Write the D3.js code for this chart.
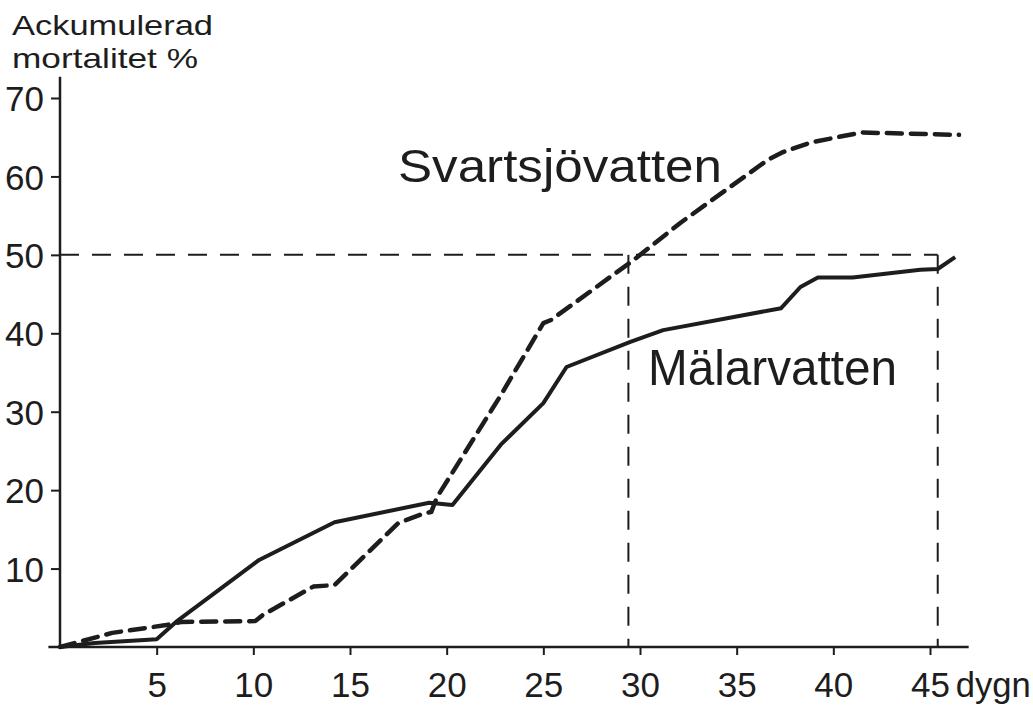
<!DOCTYPE html>
<html>
<head>
<meta charset="utf-8">
<script src="https://cdn.jsdelivr.net/npm/d3@7"></script>
<style>
  body { margin: 0; background: #fff; }
  svg { display: block; font-family: "Liberation Sans", Arial, sans-serif; }
</style>
</head>
<body>
<svg id="chart" width="1033" height="710"></svg>
<script>
// Mälarvatten (solid) - day, cumulative mortality %
const malarDays = [0, 1.8, 5, 6, 10.3, 14.2, 19.1, 20.3, 22.8, 25.0, 26.2, 29.5, 31.2, 37.3, 38.3, 39.2, 41, 44.5, 45.4, 46.3];
const malarVals = [0, 0.5, 1.0, 3.2, 11.1, 15.9, 18.4, 18.1, 25.8, 31.1, 35.7, 38.9, 40.4, 43.2, 45.9, 47.1, 47.1, 48.1, 48.2, 49.7];

// Svartsjövatten (dashed)
const svartDays = [0, 2.7, 5.5, 6.3, 10.1, 10.5, 13.1, 14.2, 17.5, 18.9, 19.2, 19.5, 22.8, 25.0, 25.4, 29.7, 32.1, 36.6, 37.4, 38.8, 40.2, 41.5, 46.5];
const svartVals = [0, 1.8, 2.8, 3.2, 3.3, 4.1, 7.7, 7.9, 15.8, 17.1, 17.2, 19.1, 32.1, 41.3, 41.7, 49.4, 54.1, 62.1, 63.1, 64.3, 65.0, 65.6, 65.3];

const xTicks = [5, 10, 15, 20, 25, 30, 35, 40, 45];
const yTicks = [10, 20, 30, 40, 50, 60, 70];

// LT50 guide lines: 50 % level, reached at these days
const refLevel = 50;
const refDays = [29.4, 45.4];

const xAxisEnd = 47;
const yAxisTop = 72.7;

const svg = d3.select('#chart');
const ink = '#1d1d1d';

const x = d3.scaleLinear().domain([0, 45]).range([60, 930]);
const y = d3.scaleLinear().domain([0, 70]).range([647, 98]);

// y axis
const yAxis = svg.append('g')
    .attr('transform', 'translate(' + x(0) + ',0)')
    .call(d3.axisLeft(y).tickValues(yTicks).tickSize(9).tickPadding(7).tickFormat(d3.format('d')));
yAxis.select('.domain').remove();
yAxis.selectAll('line').attr('stroke', ink).attr('stroke-width', 2);
yAxis.selectAll('text')
    .attr('font-size', 35)
    .attr('font-family', '"Liberation Sans", Arial, sans-serif')
    .attr('fill', ink)
    .attr('dy', '0.36em');

// x axis
const xAxis = svg.append('g')
    .attr('transform', 'translate(0,' + y(0) + ')')
    .call(d3.axisBottom(x).tickValues(xTicks).tickSize(8).tickPadding(17).tickFormat(d3.format('d')));
xAxis.select('.domain').remove();
xAxis.selectAll('line').attr('stroke', ink).attr('stroke-width', 2);
xAxis.selectAll('text')
    .attr('font-size', 35)
    .attr('font-family', '"Liberation Sans", Arial, sans-serif')
    .attr('fill', ink);

// axis lines drawn longer than the tick range
svg.append('line')
    .attr('x1', x(0)).attr('x2', x(0))
    .attr('y1', y(yAxisTop)).attr('y2', y(0) + 2)
    .attr('stroke', ink).attr('stroke-width', 2.5);
svg.append('line')
    .attr('x1', x(-0.6)).attr('x2', x(xAxisEnd))
    .attr('y1', y(0)).attr('y2', y(0))
    .attr('stroke', ink).attr('stroke-width', 2.5);

// unit label
svg.append('text')
    .attr('x', x(xAxisEnd) - 13).attr('y', 697)
    .attr('font-size', 35).attr('fill', ink)
    .attr('textLength', 75).attr('lengthAdjust', 'spacingAndGlyphs')
    .text('dygn');

// y title
svg.append('text')
    .attr('x', 12).attr('y', 35)
    .attr('font-size', 28).attr('fill', ink)
    .attr('textLength', 201).attr('lengthAdjust', 'spacingAndGlyphs')
    .text('Ackumulerad');
svg.append('text')
    .attr('x', 12).attr('y', 68)
    .attr('font-size', 28).attr('fill', ink)
    .attr('textLength', 186).attr('lengthAdjust', 'spacingAndGlyphs')
    .text('mortalitet %');

// reference dashed lines
const refG = svg.append('g')
    .attr('stroke', ink)
    .attr('stroke-width', 2)
    .attr('stroke-dasharray', '19,13')
    .attr('fill', 'none');
refG.append('line')
    .attr('x1', x(0)).attr('x2', x(d3.max(refDays)))
    .attr('y1', y(refLevel)).attr('y2', y(refLevel));
refG.selectAll('line.v')
    .data(refDays)
    .enter().append('line')
    .classed('v', true)
    .attr('x1', d => x(d)).attr('x2', d => x(d))
    .attr('y1', y(refLevel)).attr('y2', y(0));

const line = d3.line()
    .x(d => x(d[0]))
    .y(d => y(d[1]));

svg.append('path')
    .datum(malarDays.map((d, i) => [d, malarVals[i]]))
    .attr('d', line)
    .attr('fill', 'none')
    .attr('stroke', ink)
    .attr('stroke-width', 4)
    .attr('stroke-linejoin', 'round');

svg.append('path')
    .datum(svartDays.map((d, i) => [d, svartVals[i]]))
    .attr('d', line)
    .attr('fill', 'none')
    .attr('stroke', ink)
    .attr('stroke-width', 4.5)
    .attr('stroke-dasharray', '15,9')
    .attr('stroke-linecap', 'round')
    .attr('stroke-linejoin', 'round');

// series labels
svg.append('text')
    .attr('x', 398).attr('y', 182)
    .attr('font-size', 46).attr('fill', ink)
    .attr('textLength', 324).attr('lengthAdjust', 'spacingAndGlyphs')
    .text('Svartsjövatten');
svg.append('text')
    .attr('x', 648).attr('y', 385)
    .attr('font-size', 50).attr('fill', ink)
    .attr('textLength', 249).attr('lengthAdjust', 'spacingAndGlyphs')
    .text('Mälarvatten');
</script>
</body>
</html>
